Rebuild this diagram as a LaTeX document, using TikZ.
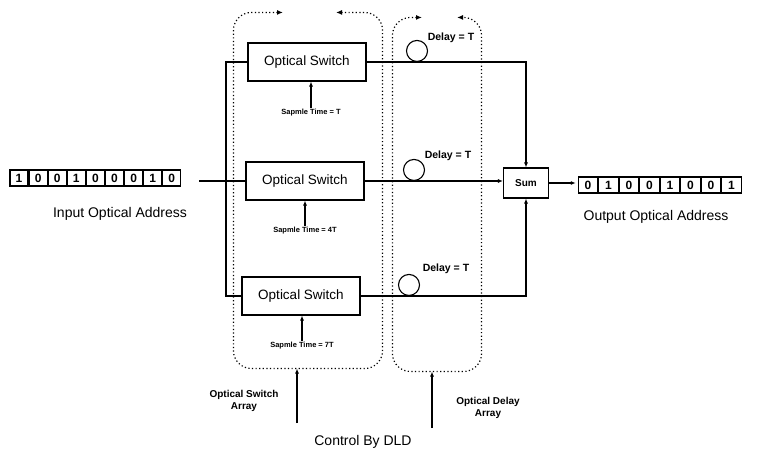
\documentclass[tikz,border=0pt]{standalone}
\usepackage{fontspec}
\setmainfont{Liberation Sans}
\usetikzlibrary{positioning, arrows.meta}

\begin{document}
\begin{tikzpicture}[x=1pt,y=-1pt,line width=1.1pt,>={Latex[length=5pt,width=4pt]},
    bit/.style={draw,minimum width=18pt,minimum height=16pt,inner sep=0pt,font=\fontsize{12}{12}\selectfont\bfseries},
    obit/.style={bit,minimum width=19.4pt},
    switch/.style={draw,minimum width=118pt,minimum height=38pt,font=\fontsize{13.5}{14}\selectfont},
    sample/.style={font=\fontsize{7.5}{8}\selectfont\bfseries,inner sep=1pt},
    dlylbl/.style={font=\fontsize{10.5}{11}\selectfont\bfseries,inner sep=0pt},
    fiber/.style={draw,circle,minimum size=21pt,inner sep=0pt},
    arrayframe/.style={line width=1.2pt,dash pattern=on 1.2pt off 2.4pt,rounded corners=18pt,
        {Latex[length=6pt,width=5pt]}-{Latex[length=6pt,width=5pt]}},
    biglbl/.style={font=\fontsize{14}{16}\selectfont},
    arrlbl/.style={font=\fontsize{10}{12}\selectfont\bfseries,align=center}]
    \useasboundingbox (0,0) rectangle (763,457);

    % input address
    \node[bit] (i1) at (19,178) {1};
    \node[bit,right=0pt of i1] (i2) {0};
    \node[bit,right=0pt of i2] (i3) {0};
    \node[bit,right=0pt of i3] (i4) {1};
    \node[bit,right=0pt of i4] (i5) {0};
    \node[bit,right=0pt of i5] (i6) {0};
    \node[bit,right=0pt of i6] (i7) {0};
    \node[bit,right=0pt of i7] (i8) {1};
    \node[bit,right=0pt of i8] (i9) {0};
    \node[biglbl] (inlbl) at (120,214) {Input Optical Address};

    % switch array
    \node[minimum width=148pt,minimum height=355pt,inner sep=0pt] (swarr) at (308,190.5) {};
    \node[switch] (sw1) at (307,62) {Optical Switch};
    \node[switch] (sw2) at (305,181) {Optical Switch};
    \node[switch] (sw3) at (301,296) {Optical Switch};
    \node[sample] (st1) at (311,113) {Sapmle Time = T};
    \node[sample] (st2) at (305,231) {Sapmle Time = 4T};
    \node[sample] (st3) at (302,346) {Sapmle Time = 7T};

    % delay array
    \node[minimum width=88pt,minimum height=353pt,inner sep=0pt] (dlarr) at (437,194.5) {};
    \node[fiber,anchor=south] (d1) at (417,62) {};
    \node[fiber,anchor=south] (d2) at (414,181) {};
    \node[fiber,anchor=south] (d3) at (409,296) {};
    \node[dlylbl] (l1) at (451,38) {Delay = T};
    \node[dlylbl] (l2) at (448,156) {Delay = T};
    \node[dlylbl] (l3) at (446,269) {Delay = T};

    % sum and output address
    \node[draw,minimum width=45pt,minimum height=30pt,font=\fontsize{10}{12}\selectfont\bfseries] (sum) at (526,183) {Sum};
    \node[obit] (o1) at (588,185) {0};
    \node[obit,right=0pt of o1] (o2) {1};
    \node[obit,right=0pt of o2] (o3) {0};
    \node[obit,right=0pt of o3] (o4) {0};
    \node[obit,right=0pt of o4] (o5) {1};
    \node[obit,right=0pt of o5] (o6) {0};
    \node[obit,right=0pt of o6] (o7) {0};
    \node[obit,right=0pt of o7] (o8) {1};
    \node[biglbl] (outlbl) at (656,217) {Output Optical Address};

    % labels at the bottom
    \node[arrlbl] (swlbl) at (244,401) {Optical Switch\\Array};
    \node[arrlbl] (dllbl) at (488,408) {Optical Delay\\Array};
    \node[biglbl] (ctrl) at (363,442) {Control By DLD};
    \coordinate (c1) at (297,423);
    \coordinate (c2) at (432,428);

    % dotted array frames
    \draw[arrayframe] ([xshift=-25pt]swarr.north) -| (swarr.south west) -| (swarr.north east) -- ([xshift=28pt]swarr.north);
    \draw[arrayframe] ([xshift=-15pt]dlarr.north) -| (dlarr.south west) -| (dlarr.north east) -- ([xshift=20pt]dlarr.north);

    % fibres
    \coordinate (inl) at (199,181);
    \coordinate (splt) at (226,181);
    \draw (inl) -- (sw2.west);
    \draw (sw1.west) -| (splt) |- (sw3.west);
    \draw[->] (sw1.east) -| (sum.north);
    \draw[->] (sw2.east) -- (sw2.east -| sum.west);
    \draw[->] (sw3.east) -| (sum.south);
    \draw[->] (sum.east) -- ([xshift=-2pt]sum.east -| o1.west);

    % control
    \draw[->] (st1.north) -- (st1.north |- sw1.south);
    \draw[->] (st2.north) -- (st2.north |- sw2.south);
    \draw[->] (st3.north) -- (st3.north |- sw3.south);
    \draw[->] (c1) -- (c1 |- swarr.south);
    \draw[->] (c2) -- (c2 |- dlarr.south);
\end{tikzpicture}
\end{document}
